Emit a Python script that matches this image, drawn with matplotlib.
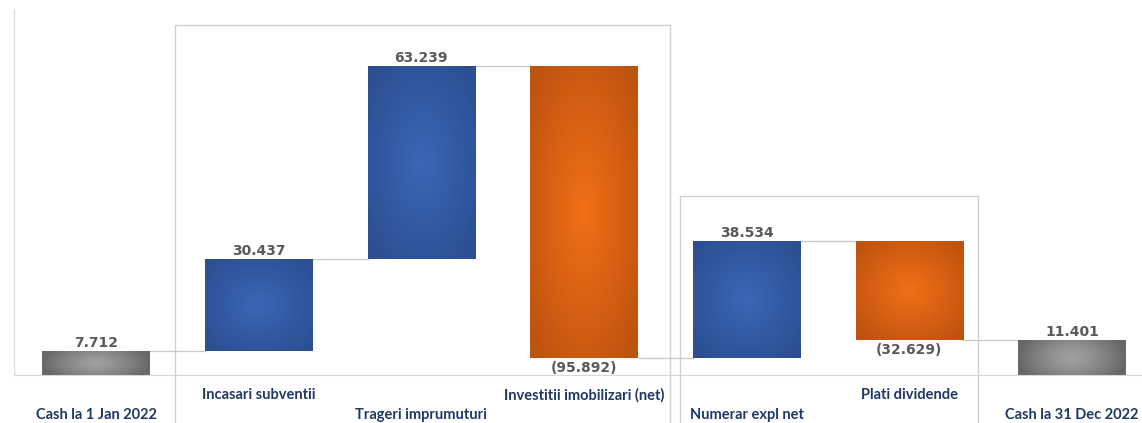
import numpy as np
import matplotlib
matplotlib.use('Agg')
import matplotlib.pyplot as plt
from matplotlib.colors import LinearSegmentedColormap
from matplotlib.patches import Rectangle

# valori (mii lei)
categories = ['Cash la 1 Jan 2022', 'Incasari subventii', 'Trageri imprumuturi',
              'Investitii imobilizari (net)', 'Numerar expl net', 'Plati dividende',
              'Cash la 31 Dec 2022']
values = [7.712, 30.437, 63.239, -95.892, 38.534, -32.629, 11.401]
kinds = ['total', 'delta', 'delta', 'delta', 'delta', 'delta', 'total']
value_labels = ['7.712', '30.437', '63.239', '(95.892)', '38.534', '(32.629)', '11.401']
label_row = [2, 1, 2, 1, 2, 1, 2]

# baze pentru waterfall
bottoms = []
heights = []
run = 0.0
for v, k in zip(values, kinds):
    if k == 'total':
        bottoms.append(0.0)
        heights.append(v)
        run = v
    else:
        if v >= 0:
            bottoms.append(run)
            heights.append(v)
        else:
            bottoms.append(run + v)
            heights.append(-v)
        run += v

grad_blue = LinearSegmentedColormap.from_list('b', ['#3A67B6', '#2B4F92'])
grad_orange = LinearSegmentedColormap.from_list('o', ['#F26F17', '#BE530F'])
grad_grey = LinearSegmentedColormap.from_list('g', ['#A0A0A0', '#686868'])

fig = plt.figure(figsize=(11.42, 4.23), dpi=100)
ax = fig.add_axes([14 / 1142, 48 / 423, 1 - 14 / 1142, (375 - 10) / 423])
ax.set_xlim(-0.504, 6.43)
ax.set_ylim(0, 119.7)

x = np.arange(len(categories))
bars = ax.bar(x, heights, bottom=bottoms, width=0.66, color='none', zorder=3)

# gradient radial in fiecare bara
yy, xx = np.mgrid[-1:1:80j, -1:1:80j]
radial = np.clip(np.sqrt(xx ** 2 + yy ** 2) / 1.3, 0, 1)
horiz = np.clip(np.sqrt(xx ** 2 + 0.3 * yy ** 2), 0, 1) ** 1.3
for b, v, k in zip(bars, values, kinds):
    if k == 'total':
        cm, arr = grad_grey, horiz
    elif v >= 0:
        cm, arr = grad_blue, radial
    else:
        cm, arr = grad_orange, radial
    x0, y0, w, h = b.get_x(), b.get_y(), b.get_width(), b.get_height()
    im = ax.imshow(arr, cmap=cm, vmin=0, vmax=1, extent=[x0, x0 + w, y0, y0 + h],
                   aspect='auto', zorder=3, interpolation='bilinear')
    im.set_clip_path(b)

# linii de legatura
run = 0.0
levels = []
for v, k in zip(values, kinds):
    run = v if k == 'total' else run + v
    levels.append(run)
for i in range(len(values) - 1):
    lvl = levels[i]
    ax.plot([x[i] + 0.33, x[i + 1] - 0.33], [lvl, lvl], color='#C8C8C8', lw=0.9, zorder=2)

# etichete valori
for i, (b, v) in enumerate(zip(bars, values)):
    top = b.get_y() + b.get_height()
    if v >= 0:
        ax.annotate(value_labels[i], (x[i], top), xytext=(0, 8), textcoords='offset pixels',
                    ha='center', va='center', fontsize=10, fontweight='bold', color='#595959',
                    family='DejaVu Sans', zorder=5)
    else:
        ax.annotate(value_labels[i], (x[i], b.get_y()), xytext=(0, -10), textcoords='offset pixels',
                    ha='center', va='center', fontsize=10, fontweight='bold', color='#595959',
                    family='DejaVu Sans', zorder=5)

# etichete categorii pe doua randuri
for i, cat in enumerate(categories):
    off = -20 if label_row[i] == 1 else -40
    ax.annotate(cat, (x[i], 0), xycoords=('data', 'axes fraction'), xytext=(0, off),
                textcoords='offset pixels', ha='center', va='center', fontsize=10.5,
                fontweight='bold', color='#1F3864', family=['Lato', 'DejaVu Sans'],
                annotation_clip=False)

# chenare grupuri
ax.add_patch(Rectangle((0.486, -40), 3.53 - 0.486, 114.8 + 40, fill=False,
                       edgecolor='#CFCFCF', lw=1.0, clip_on=False, zorder=1))
ax.add_patch(Rectangle((3.59, -40), 5.42 - 3.59, 58.7 + 40, fill=False,
                       edgecolor='#CFCFCF', lw=1.0, clip_on=False, zorder=1))

for s in ['top', 'right']:
    ax.spines[s].set_visible(False)
ax.spines['left'].set_color('#D9D9D9')
ax.spines['bottom'].set_color('#D9D9D9')
ax.set_xticks([])
ax.set_yticks([])

fig.savefig('out.png', dpi=100)
